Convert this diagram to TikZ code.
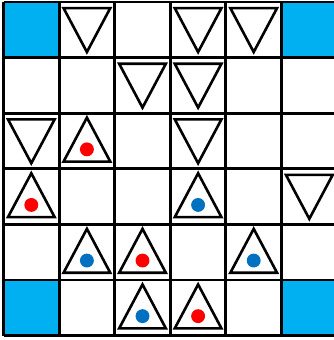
\documentclass[tikz,border=0pt]{standalone}
\usepackage{tikz}
\usepackage{xcolor}
\definecolor{cornerblue}{HTML}{00B0F0}
\definecolor{dotred}{HTML}{FF0000}
\definecolor{dotblue}{HTML}{0070C0}

\begin{document}
\begin{tikzpicture}[x=1.5cm, y=1.5cm,
        corner/.style={fill=cornerblue},
        gridline/.style={draw=black, line width=2.2pt, step=1.5cm},
        tri/.style={draw=black, line width=2pt, line join=miter},
        reddot/.style={fill=dotred},
        bluedot/.style={fill=dotblue}]

        \useasboundingbox (-0.063,-0.079) rectangle (5.944,6.036);

        % blue corner cells
        \fill[corner] (0,5) rectangle (1,6);
        \fill[corner] (5,5) rectangle (6,6);
        \fill[corner] (0,0) rectangle (1,1);
        \fill[corner] (5,0) rectangle (6,1);

        \draw[gridline] (0,0) grid (6,6);

        % downward triangles
        \draw[tri] (1.08,5.89) -- ++(0.84,0) -- ++(-0.42,-0.79) -- cycle;
        \draw[tri] (3.08,5.89) -- ++(0.84,0) -- ++(-0.42,-0.79) -- cycle;
        \draw[tri] (4.08,5.89) -- ++(0.84,0) -- ++(-0.42,-0.79) -- cycle;
        \draw[tri] (2.08,4.89) -- ++(0.84,0) -- ++(-0.42,-0.79) -- cycle;
        \draw[tri] (3.08,4.89) -- ++(0.84,0) -- ++(-0.42,-0.79) -- cycle;
        \draw[tri] (0.08,3.89) -- ++(0.84,0) -- ++(-0.42,-0.79) -- cycle;
        \draw[tri] (3.08,3.89) -- ++(0.84,0) -- ++(-0.42,-0.79) -- cycle;
        \draw[tri] (5.08,2.89) -- ++(0.84,0) -- ++(-0.42,-0.79) -- cycle;

        % upward triangles with dots
        \draw[tri] (1.08,3.13) -- ++(0.84,0) -- ++(-0.42,0.79) -- cycle;
        \fill[reddot] (1.5,3.35) circle (0.125);
        \draw[tri] (0.08,2.13) -- ++(0.84,0) -- ++(-0.42,0.79) -- cycle;
        \fill[reddot] (0.5,2.35) circle (0.125);
        \draw[tri] (3.08,2.13) -- ++(0.84,0) -- ++(-0.42,0.79) -- cycle;
        \fill[bluedot] (3.5,2.35) circle (0.125);
        \draw[tri] (1.08,1.13) -- ++(0.84,0) -- ++(-0.42,0.79) -- cycle;
        \fill[bluedot] (1.5,1.35) circle (0.125);
        \draw[tri] (2.08,1.13) -- ++(0.84,0) -- ++(-0.42,0.79) -- cycle;
        \fill[reddot] (2.5,1.35) circle (0.125);
        \draw[tri] (4.08,1.13) -- ++(0.84,0) -- ++(-0.42,0.79) -- cycle;
        \fill[bluedot] (4.5,1.35) circle (0.125);
        \draw[tri] (2.08,0.13) -- ++(0.84,0) -- ++(-0.42,0.79) -- cycle;
        \fill[bluedot] (2.5,0.35) circle (0.125);
        \draw[tri] (3.08,0.13) -- ++(0.84,0) -- ++(-0.42,0.79) -- cycle;
        \fill[reddot] (3.5,0.35) circle (0.125);
      \end{tikzpicture}
\end{document}
